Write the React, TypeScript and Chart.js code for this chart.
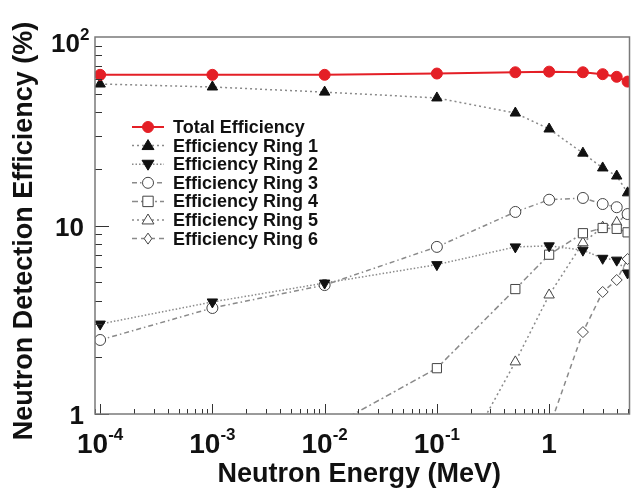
import React, { useEffect, useRef } from "react";
import { Chart, registerables } from "chart.js";

Chart.register(...registerables);

// ---- data ----
const energies = [1e-4, 1e-3, 1e-2, 1e-1, 0.5, 1, 2, 3, 4, 5];
const totalEff = [63, 63, 63, 64, 65, 65.5, 65, 63.5, 61.5, 58];
const ring1 = [56.3, 54.3, 51, 47.5, 39.5, 32.5, 24.2, 20.2, 18.3, 14.9];
const ring2 = [3.0, 3.93, 4.95, 6.2, 7.7, 7.8, 7.4, 6.7, 6.55, 5.6];
const ring3 = [2.47, 3.65, 4.83, 7.7, 11.8, 13.7, 14.0, 13.0, 12.5, 11.5];
const ring4 = [null, null, 0.82, 1.75, 4.6, 7.0, 9.1, 9.7, 9.6, 9.2];
const ring5 = [null, null, null, 0.33, 1.89, 4.28, 8.1, 9.8, 10.4, 11.4];
const ring6 = [null, null, null, null, null, 0.84, 2.72, 4.44, 5.14, 6.64];

const legendLabels = [
  "Total Efficiency",
  "Efficiency Ring 1",
  "Efficiency Ring 2",
  "Efficiency Ring 3",
  "Efficiency Ring 4",
  "Efficiency Ring 5",
  "Efficiency Ring 6",
];

const xTickValues = [1e-4, 1e-3, 1e-2, 1e-1, 1];
const xTickBase = ["10", "10", "10", "10", "1"];
const xTickExp = ["-4", "-3", "-2", "-1", ""];
const yTickValues = [1, 10, 100];
const yTickBase = ["1", "10", "10"];
const yTickExp = ["", "", "2"];

const xTitle = "Neutron Energy (MeV)";
const yTitle = "Neutron Detection Efficiency (%)";

const FONT = '"Liberation Sans", Arial, sans-serif';

function toPoints(vals: (number | null)[]) {
  const out: { x: number; y: number }[] = [];
  vals.forEach((v, i) => {
    if (v !== null) out.push({ x: energies[i], y: v });
  });
  return out;
}

function drawMarker(ctx: CanvasRenderingContext2D, style: string, x: number, y: number, r: number, rot: number, fill: string, stroke: string, lw: number) {
  ctx.save();
  ctx.translate(x, y);
  ctx.rotate((rot * Math.PI) / 180);
  ctx.beginPath();
  if (style === "circle") {
    ctx.arc(0, 0, r, 0, Math.PI * 2);
  } else if (style === "triangle") {
    const h = r * 1.5;
    ctx.moveTo(0, -r);
    ctx.lineTo(r * 0.866 * 1.15, r * 0.5 * 1.15 + 0.5);
    ctx.lineTo(-r * 0.866 * 1.15, r * 0.5 * 1.15 + 0.5);
    ctx.closePath();
    void h;
  } else if (style === "rect") {
    const s = r * 0.8;
    ctx.rect(-s, -s, 2 * s, 2 * s);
  } else if (style === "rectRot") {
    ctx.moveTo(0, -r);
    ctx.lineTo(r * 0.7, 0);
    ctx.lineTo(0, r);
    ctx.lineTo(-r * 0.7, 0);
    ctx.closePath();
  }
  ctx.fillStyle = fill;
  ctx.fill();
  ctx.lineWidth = lw;
  ctx.strokeStyle = stroke;
  ctx.stroke();
  ctx.restore();
}

const decorPlugin = {
  id: "decor",
  afterDraw(chart: any) {
    const ctx: CanvasRenderingContext2D = chart.ctx;
    const area = chart.chartArea;
    const xs = chart.scales.x;
    const ys = chart.scales.y;
    ctx.save();

    // inner ticks
    ctx.strokeStyle = "#333";
    ctx.lineWidth = 1;
    for (let d = -5; d <= 1; d++) {
      for (let k = 1; k <= 9; k++) {
        const v = k * Math.pow(10, d);
        if (v >= xs.min && v <= xs.max) {
          const px = Math.round(xs.getPixelForValue(v)) + 0.5;
          const len = k === 1 ? 10 : 5;
          ctx.beginPath();
          ctx.moveTo(px, area.bottom);
          ctx.lineTo(px, area.bottom - len);
          ctx.stroke();
        }
        if (v >= ys.min && v <= ys.max) {
          const py = Math.round(ys.getPixelForValue(v)) + 0.5;
          const len = k === 1 ? 14 : 7;
          ctx.beginPath();
          ctx.moveTo(area.left, py);
          ctx.lineTo(area.left + len, py);
          ctx.stroke();
        }
      }
    }

    // frame
    ctx.strokeStyle = "#7a7a7a";
    ctx.lineWidth = 1.5;
    ctx.strokeRect(area.left, area.top, area.right - area.left, area.bottom - area.top);

    // x tick labels
    ctx.fillStyle = "#111";
    ctx.textBaseline = "alphabetic";
    ctx.textAlign = "left";
    xTickValues.forEach((v, i) => {
      const px = xs.getPixelForValue(v);
      ctx.font = `bold 28px ${FONT}`;
      const bw = ctx.measureText(xTickBase[i]).width;
      ctx.font = `bold 17px ${FONT}`;
      const ew = xTickExp[i] ? ctx.measureText(xTickExp[i]).width : 0;
      const start = px - (bw + ew) / 2;
      ctx.font = `bold 28px ${FONT}`;
      ctx.fillText(xTickBase[i], start, 453);
      if (xTickExp[i]) {
        ctx.font = `bold 17px ${FONT}`;
        ctx.fillText(xTickExp[i], start + bw, 440);
      }
    });

    // y tick labels
    yTickValues.forEach((v, i) => {
      const py = ys.getPixelForValue(v);
      ctx.font = `bold 26px ${FONT}`;
      const bw = ctx.measureText(yTickBase[i]).width;
      const right = yTickExp[i] ? 80 : 84;
      const base = yTickExp[i] ? py + 15 : py + 10;
      ctx.fillText(yTickBase[i], right - bw, base);
      if (yTickExp[i]) {
        ctx.font = `bold 17px ${FONT}`;
        ctx.fillText(yTickExp[i], right, base - 12);
      }
    });

    // axis titles
    ctx.font = `bold 27px ${FONT}`;
    ctx.textAlign = "center";
    ctx.textBaseline = "middle";
    ctx.fillText(xTitle, (area.left + area.right) / 2 - 3, 475);
    ctx.save();
    ctx.translate(25, 231);
    ctx.rotate(-Math.PI / 2);
    ctx.fillText(yTitle, 0, 0);
    ctx.restore();

    // legend
    const ds = chart.data.datasets;
    ctx.textAlign = "left";
    ctx.textBaseline = "middle";
    ctx.font = `bold 18px ${FONT}`;
    legendLabels.forEach((lab, i) => {
      const d = ds[i];
      const y = 127 + i * 18.6;
      ctx.save();
      ctx.strokeStyle = d.borderColor;
      ctx.lineWidth = d.borderWidth;
      ctx.setLineDash(d.borderDash || []);
      ctx.beginPath();
      ctx.moveTo(132, y);
      ctx.lineTo(164, y);
      ctx.stroke();
      ctx.restore();
      drawMarker(ctx, d.pointStyle, 148, y, d.pointRadius, d.pointRotation || 0, d.pointBackgroundColor, d.pointBorderColor, d.pointBorderWidth);
      ctx.fillStyle = "#111";
      ctx.fillText(lab, 173, y + 1);
    });

    ctx.restore();
  },
};

export default function App() {
  const ref = useRef<HTMLCanvasElement | null>(null);
  useEffect(() => {
    if (!ref.current) return;
    const gray = "#8a8a8a";
    const chart = new Chart(ref.current, {
      type: "line",
      data: {
        datasets: [
          {
            label: legendLabels[0],
            data: toPoints(totalEff),
            borderColor: "#e41f26",
            borderWidth: 2,
            pointStyle: "circle",
            pointRadius: 5.5,
            pointBackgroundColor: "#e41f26",
            pointBorderColor: "#e41f26",
            pointBorderWidth: 1,
          },
          {
            label: legendLabels[1],
            data: toPoints(ring1),
            borderColor: gray,
            borderWidth: 1.5,
            borderDash: [2, 3],
            pointStyle: "triangle",
            pointRadius: 6,
            pointBackgroundColor: "#111",
            pointBorderColor: "#111",
            pointBorderWidth: 1,
          },
          {
            label: legendLabels[2],
            data: toPoints(ring2),
            borderColor: gray,
            borderWidth: 1.5,
            borderDash: [1.5, 2],
            pointStyle: "triangle",
            pointRotation: 180,
            pointRadius: 6,
            pointBackgroundColor: "#111",
            pointBorderColor: "#111",
            pointBorderWidth: 1,
          },
          {
            label: legendLabels[3],
            data: toPoints(ring3),
            borderColor: gray,
            borderWidth: 1.5,
            borderDash: [5, 3, 1.5, 3],
            pointStyle: "circle",
            pointRadius: 5.5,
            pointBackgroundColor: "#fff",
            pointBorderColor: "#444",
            pointBorderWidth: 1,
          },
          {
            label: legendLabels[4],
            data: toPoints(ring4),
            borderColor: gray,
            borderWidth: 1.5,
            borderDash: [6, 3, 2, 3],
            pointStyle: "rect",
            pointRadius: 6.5,
            pointBackgroundColor: "#fff",
            pointBorderColor: "#444",
            pointBorderWidth: 1,
          },
          {
            label: legendLabels[5],
            data: toPoints(ring5),
            borderColor: gray,
            borderWidth: 1.5,
            borderDash: [2, 3],
            pointStyle: "triangle",
            pointRadius: 6,
            pointBackgroundColor: "#fff",
            pointBorderColor: "#444",
            pointBorderWidth: 1,
          },
          {
            label: legendLabels[6],
            data: toPoints(ring6),
            borderColor: gray,
            borderWidth: 1.5,
            borderDash: [5, 4],
            pointStyle: "rectRot",
            pointRadius: 5.5,
            pointBackgroundColor: "#fff",
            pointBorderColor: "#444",
            pointBorderWidth: 1,
          },
        ],
      },
      options: {
        responsive: false,
        devicePixelRatio: 1,
        animation: false,
        layout: { padding: { left: 95, right: 3, top: 37, bottom: 82 } },
        elements: { line: { tension: 0 } },
        plugins: { legend: { display: false }, tooltip: { enabled: false } },
        scales: {
          x: { type: "logarithmic", min: 9e-5, max: 5.2, display: false },
          y: { type: "logarithmic", min: 1, max: 100, display: false },
        },
      },
      plugins: [decorPlugin],
    } as any);
    return () => chart.destroy();
  }, []);
  return (
    <div style={{ position: "absolute", left: 0, top: 0, width: 637, height: 496, background: "#fff" }}>
      <canvas ref={ref} width={637} height={496} />
    </div>
  );
}
